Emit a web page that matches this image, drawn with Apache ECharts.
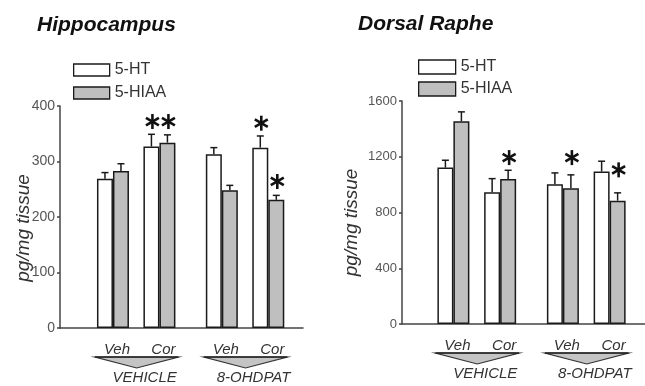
<!DOCTYPE html>
<html>
<head>
<meta charset="utf-8">
<script src="https://cdn.jsdelivr.net/npm/echarts@6/dist/echarts.min.js"></script>
<style>html,body{margin:0;padding:0;background:#fff}#c{width:645px;height:386px}</style>
</head>
<body>
<div id="c"></div>
<script>
// ---------- data ----------
const pairLabels = ['Veh', 'Cor', 'Veh', 'Cor'];
const groupLabels = ['VEHICLE', '8-OHDPAT'];
const seriesNames = ['5-HT', '5-HIAA'];
const panelTitles = ['Hippocampus', 'Dorsal Raphe'];
const yAxisName = 'pg/mg tissue';

const hippoHT = [269, 327, 313, 325];
const hippoHTErr = [11, 22, 12, 21];
const hippoHIAA = [283, 334, 248, 231];
const hippoHIAAErr = [13, 14, 9, 8];
const hippoHTStar = [null, 372, null, 369];
const hippoHIAAStar = [null, 372, null, 264];
const hippoTicks = [0, 100, 200, 300, 400];

const rapheHT = [1122, 945, 1003, 1094];
const rapheHTErr = [53, 98, 81, 74];
const rapheHIAA = [1455, 1041, 974, 885];
const rapheHIAAErr = [67, 62, 96, 56];
const rapheHTStar = [null, null, null, null];
const rapheHIAAStar = [null, 1194, 1194, 1106];
const rapheTicks = [0, 400, 800, 1200, 1600];

// ---------- layout helpers ----------
const FONT = 'Liberation Sans, Arial, sans-serif';
const GROUP_GAP = 0.343;
const xPos = i => i + Math.floor(i / 2) * GROUP_GAP;
const HALF_BAR = 8;
const BORDER = '#1a1a1a';
const GRAY = '#bfbfbf';

function barData(vals) { return vals.map((v, i) => [xPos(i), v]); }
function errData(vals, errs, side) { return vals.map((v, i) => [xPos(i), v, errs[i], side]); }
function starData(stars, side) {
  const out = [];
  stars.forEach((s, i) => { if (s != null) out.push([xPos(i), s, side]); });
  return out;
}

function renderErr(params, api) {
  const x = api.value(0), v = api.value(1), e = api.value(2), side = api.value(3);
  const b = api.coord([x, v]);
  const t = api.coord([x, v + e]);
  const cx = b[0] + side * HALF_BAR;
  return {
    type: 'group',
    children: [
      { type: 'line', shape: { x1: cx, y1: b[1], x2: cx, y2: t[1] }, style: { stroke: BORDER, lineWidth: 1.5 } },
      { type: 'line', shape: { x1: cx - 3.5, y1: t[1], x2: cx + 3.5, y2: t[1] }, style: { stroke: BORDER, lineWidth: 1.5 } }
    ]
  };
}

function renderStar(params, api) {
  const x = api.value(0), s = api.value(1), side = api.value(2);
  const c = api.coord([x, s]);
  const cx = c[0] + side * HALF_BAR + 1, cy = c[1];
  const r = 7.5;
  const children = [90, 30, -30].map(deg => {
    const a = deg * Math.PI / 180;
    return { type: 'line', shape: { x1: cx - r * Math.cos(a), y1: cy - r * Math.sin(a), x2: cx + r * Math.cos(a), y2: cy + r * Math.sin(a) },
      style: { stroke: '#111', lineWidth: 2.6 } };
  });
  return { type: 'group', children };
}

function renderPairLabel(params, api) {
  const p = api.coord([api.value(0), 0]);
  return {
    type: 'text',
    style: { text: pairLabels[params.dataIndex], x: p[0] + 4, y: p[1] + 22,
      font: 'italic 15px ' + FONT, fill: '#333', align: 'center', verticalAlign: 'middle' }
  };
}

function renderGroup(params, api) {
  const a = api.coord([api.value(0), 0]);
  const b = api.coord([api.value(1), 0]);
  const l = a[0] - 18, r = b[0] + 19, top = a[1] + 29, apexY = a[1] + 40;
  const mid = (l + r) / 2;
  return {
    type: 'group',
    children: [
      { type: 'polygon', shape: { points: [[l, top], [r, top], [mid, apexY]] },
        style: { fill: '#c4c4c4', stroke: '#333', lineWidth: 1.2 } },
      { type: 'line', shape: { x1: l, y1: top, x2: r, y2: top }, style: { stroke: '#222', lineWidth: 1.6 } },
      { type: 'text', style: { text: groupLabels[params.dataIndex], x: mid + 8, y: a[1] + 50,
        font: 'italic 15px ' + FONT, fill: '#333', align: 'center', verticalAlign: 'middle' } }
    ]
  };
}

const pairData = pairLabels.map((_, i) => [xPos(i)]);
const groupData = groupLabels.map((_, g) => [xPos(2 * g), xPos(2 * g + 1)]);

function panelSeries(idx, ht, htErr, hiaa, hiaaErr, htStar, hiaaStar) {
  const ax = { xAxisIndex: idx, yAxisIndex: idx };
  return [
    Object.assign({ type: 'bar', name: seriesNames[0], data: barData(ht), barWidth: 16, barGap: '0%',
      itemStyle: { color: '#ffffff', borderColor: BORDER, borderWidth: 1.5 }, z: 2 }, ax),
    Object.assign({ type: 'bar', name: seriesNames[1], data: barData(hiaa), barWidth: 16, barGap: '0%',
      itemStyle: { color: GRAY, borderColor: BORDER, borderWidth: 1.5 }, z: 2 }, ax),
    Object.assign({ type: 'custom', renderItem: renderErr, data: errData(ht, htErr, -1), z: 3, silent: true }, ax),
    Object.assign({ type: 'custom', renderItem: renderErr, data: errData(hiaa, hiaaErr, 1), z: 3, silent: true }, ax),
    Object.assign({ type: 'custom', renderItem: renderStar, data: starData(htStar, -1), z: 4, silent: true }, ax),
    Object.assign({ type: 'custom', renderItem: renderStar, data: starData(hiaaStar, 1), z: 4, silent: true }, ax),
    Object.assign({ type: 'custom', renderItem: renderPairLabel, data: pairData, z: 4, silent: true }, ax),
    Object.assign({ type: 'custom', renderItem: renderGroup, data: groupData, z: 4, silent: true }, ax)
  ];
}

const axisLineStyle = { color: '#444', width: 1.5 };

function xAxisCfg(idx, min, max) {
  return { type: 'value', gridIndex: idx, min, max, axisLine: { show: true, onZero: false, lineStyle: axisLineStyle },
    axisTick: { show: false }, axisLabel: { show: false }, splitLine: { show: false } };
}
function yAxisCfg(idx, ticks, fontSize, gap, pad) {
  return { type: 'value', gridIndex: idx, min: ticks[0], max: ticks[ticks.length - 1], interval: ticks[1] - ticks[0],
    axisLine: { show: true, onZero: false, lineStyle: axisLineStyle },
    axisTick: { show: true, length: 3, lineStyle: axisLineStyle },
    axisLabel: { fontSize, color: '#555', margin: 5, fontFamily: FONT, formatter: v => String(v) },
    splitLine: { show: false },
    name: yAxisName, nameLocation: 'middle', nameGap: gap, nameMoveOverlap: false,
    nameTextStyle: { fontSize: 19, fontStyle: 'italic', color: '#333', fontFamily: FONT, padding: [0, pad, 0, 0] } };
}

const option = {
  animation: false,
  backgroundColor: '#fff',
  title: [
    { text: panelTitles[0], left: 37, top: 15, padding: 0,
      textStyle: { fontSize: 21, fontStyle: 'italic', fontWeight: 'bold', color: '#111', fontFamily: FONT } },
    { text: panelTitles[1], left: 358, top: 14, padding: 0,
      textStyle: { fontSize: 21, fontStyle: 'italic', fontWeight: 'bold', color: '#111', fontFamily: FONT } }
  ],
  legend: [
    { data: seriesNames, orient: 'vertical', left: 73, top: 62, padding: 0, itemWidth: 36, itemHeight: 12, itemGap: 7,
      icon: 'rect', textStyle: { fontSize: 16, color: '#333', fontFamily: FONT },
      itemStyle: { borderColor: BORDER, borderWidth: 1.3 }, selectedMode: false },
    { data: seriesNames, orient: 'vertical', left: 418, top: 59, padding: 0, itemWidth: 37, itemHeight: 14, itemGap: 6,
      icon: 'rect', textStyle: { fontSize: 16, color: '#333', fontFamily: FONT },
      itemStyle: { borderColor: BORDER, borderWidth: 1.3 }, selectedMode: false }
  ],
  grid: [
    { left: 60, right: 342, top: 106, bottom: 58 },
    { left: 402, right: 0, top: 101, bottom: 62 }
  ],
  xAxis: [xAxisCfg(0, -1.14, 4.09), xAxisCfg(1, -1.10, 4.10)],
  yAxis: [yAxisCfg(0, hippoTicks, 14, 27, 22), yAxisCfg(1, rapheTicks, 13, 41, 20)],
  series: [].concat(
    panelSeries(0, hippoHT, hippoHTErr, hippoHIAA, hippoHIAAErr, hippoHTStar, hippoHIAAStar),
    panelSeries(1, rapheHT, rapheHTErr, rapheHIAA, rapheHIAAErr, rapheHTStar, rapheHIAAStar)
  )
};

const chart = echarts.init(document.getElementById('c'), null, { renderer: 'canvas' });
chart.setOption(option);
</script>
</body>
</html>
